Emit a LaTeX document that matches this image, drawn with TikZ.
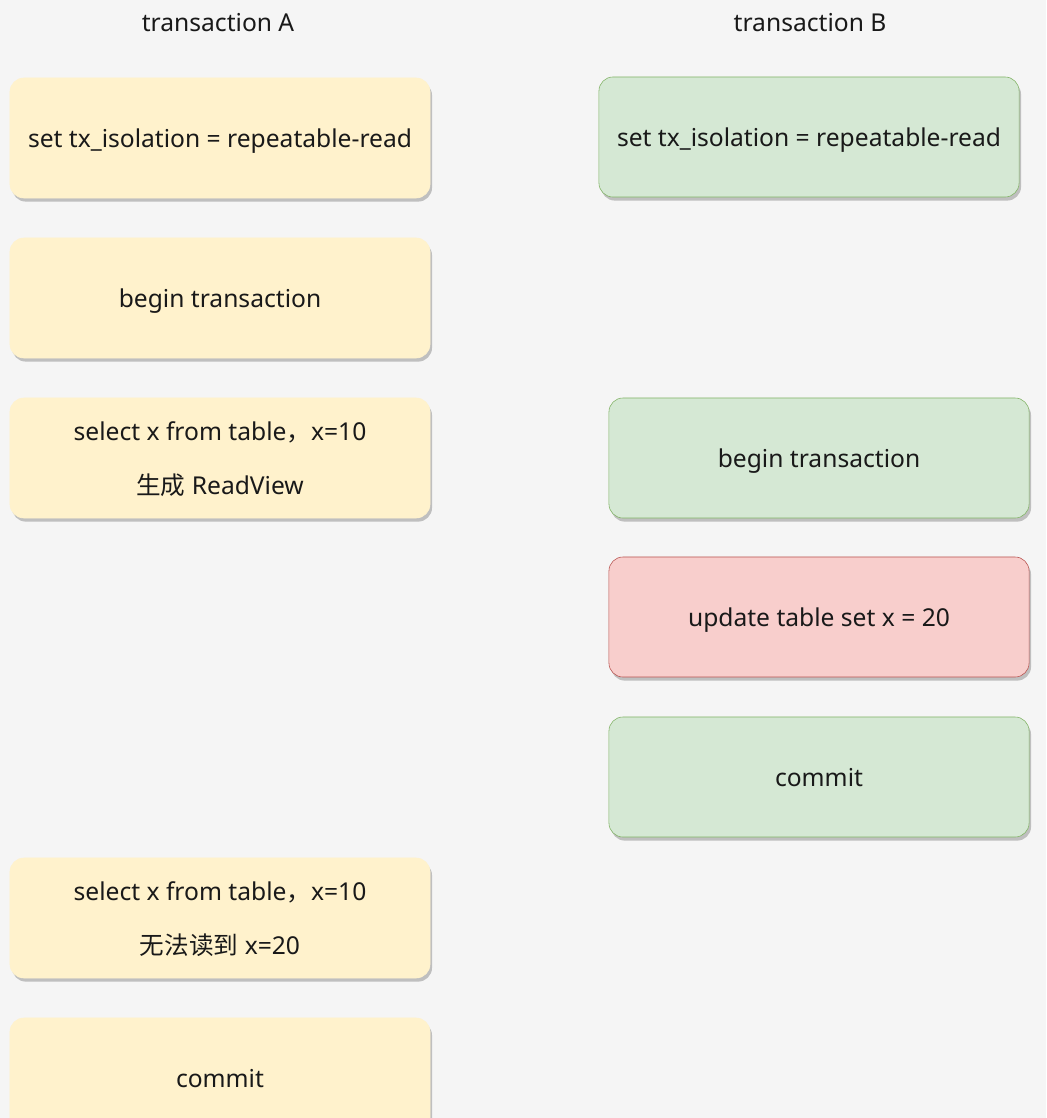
\documentclass[tikz,border=0pt]{standalone}
\usepackage{fontspec}
\setmainfont{Noto Sans}
\newfontfamily\cjk{Noto Sans CJK SC}
\usetikzlibrary{shadows}
\definecolor{bgcol}{HTML}{F5F5F5}
\definecolor{yellowfill}{HTML}{FFF2CC}
\definecolor{greenfill}{HTML}{D5E8D4}
\definecolor{greenline}{HTML}{82B366}
\definecolor{redfill}{HTML}{F8CECC}
\definecolor{redline}{HTML}{B85450}
\begin{document}
\begin{tikzpicture}[x=0.025cm, y=-0.025cm]
\tikzstyle{every node}=[font=\fontsize{17.5}{21}\selectfont, text=black!90, text depth=0pt]
\tikzstyle{txbox}=[rectangle, rounded corners=0.35cm, minimum width=10.5cm, minimum height=3cm, align=center,
  drop shadow={shadow xshift=0.05cm, shadow yshift=-0.09cm, fill=black!25, opacity=1}]
\tikzstyle{boxA}=[txbox, fill=yellowfill, draw=yellowfill]
\tikzstyle{boxB}=[txbox, fill=greenfill, draw=greenline]
\tikzstyle{boxBred}=[txbox, fill=redfill, draw=redline]
\clip (0,0) rectangle (1046,1118);
\fill[bgcol] (0,0) rectangle (1046,1118);
% column titles
\node(titleA) at (218,22) {transaction A};
\node(titleB) at (810,22) {transaction B};
% transaction A
\node[boxA](a1) at (220,138) {set tx\_isolation = repeatable-read};
\node[boxA](a2) at (220,298) {begin transaction};
\node[boxA](a3) at (220,458) {select x from table{\cjk ，}x=10\\[17pt]{\cjk 生成} ReadView};
\node[boxA](a4) at (220,918) {select x from table{\cjk ，}x=10\\[17pt]{\cjk 无法读到} x=20};
\node[boxA](a5) at (220,1078) {commit};
% transaction B
\node[boxB](b1) at (809,137) {set tx\_isolation = repeatable-read};
\node[boxB](b2) at (819,458) {begin transaction};
\node[boxBred](b3) at (819,617) {update table set x = 20};
\node[boxB](b4) at (819,777) {commit};
\end{tikzpicture}
\end{document}
